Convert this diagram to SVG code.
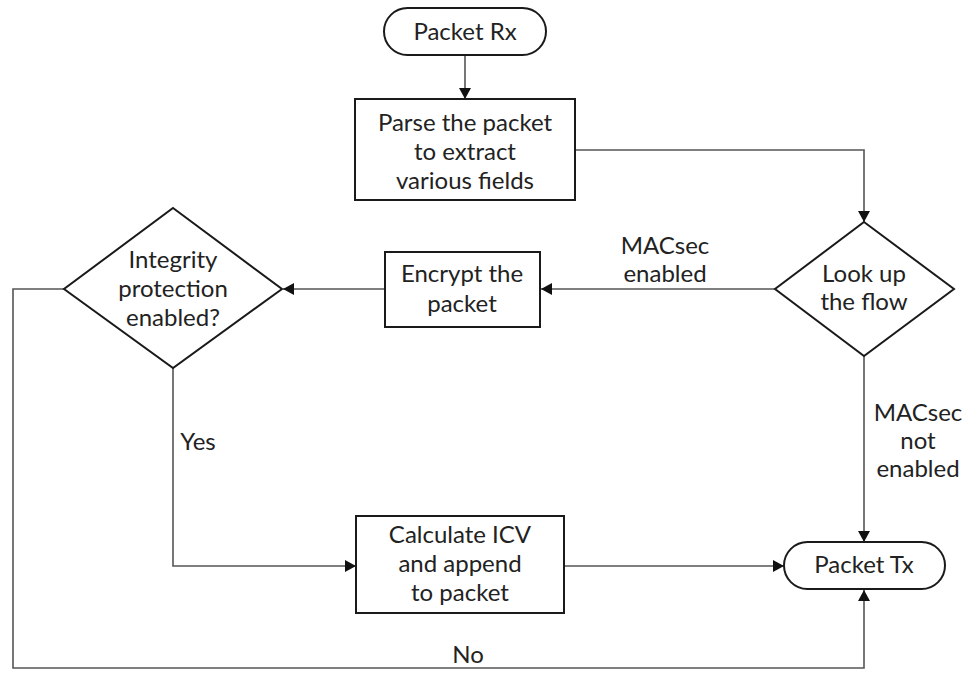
<svg xmlns="http://www.w3.org/2000/svg" width="965" height="677" viewBox="0 0 965 677">
<style>
.shape{fill:#fff;stroke:#1a1a1a;stroke-width:2}
.conn{fill:none;stroke:#555;stroke-width:1.6}
text{font-family:Lato,"Open Sans","Liberation Sans",sans-serif;font-size:24px;fill:#222;text-anchor:middle}
</style>
<defs>
<marker id="arr" markerUnits="userSpaceOnUse" markerWidth="12" markerHeight="12" refX="11" refY="6" orient="auto">
<path d="M0,0 L11,6 L0,12 z" fill="#111"/>
</marker>
</defs>
<rect width="965" height="677" fill="#fff"/>
<g id="connectors">
<path class="conn" d="M465,55 L465,99" marker-end="url(#arr)"/>
<path class="conn" d="M575,150 L864,150 L864,222" marker-end="url(#arr)"/>
<path class="conn" d="M775,289 L541,289" marker-end="url(#arr)"/>
<path class="conn" d="M385,289 L283,289" marker-end="url(#arr)"/>
<path class="conn" d="M173,368 L173,566 L356,566" marker-end="url(#arr)"/>
<path class="conn" d="M564,566 L784,566" marker-end="url(#arr)"/>
<path class="conn" d="M864,356 L864,542" marker-end="url(#arr)"/>
<path class="conn" d="M64,289 L13,289 L13,668 L864,668 L864,590" marker-end="url(#arr)"/>
<text x="665" y="254">MACsec</text>
<text x="665" y="282">enabled</text>
<text x="918" y="421">MACsec</text>
<text x="918" y="449">not</text>
<text x="918" y="477">enabled</text>
<text x="198" y="450">Yes</text>
<text x="468" y="663">No</text>
</g>
<g id="packet-rx">
<rect class="shape" x="384" y="8" width="162" height="47" rx="23.5"/>
<text x="465" y="40">Packet Rx</text>
</g>
<g id="parse">
<rect class="shape" x="355" y="99" width="220" height="101"/>
<text x="465" y="131">Parse the packet</text>
<text x="465" y="160">to extract</text>
<text x="465" y="189">various fields</text>
</g>
<g id="lookup">
<polygon class="shape" points="864,222 954,289 864,356 775,289"/>
<text x="864" y="282">Look up</text>
<text x="864" y="310">the flow</text>
</g>
<g id="encrypt">
<rect class="shape" x="385" y="252" width="155" height="75"/>
<text x="462" y="282">Encrypt the</text>
<text x="462" y="312">packet</text>
</g>
<g id="integrity">
<polygon class="shape" points="173,208 282,289 173,368 64,289"/>
<text x="173" y="268">Integrity</text>
<text x="173" y="297">protection</text>
<text x="173" y="326">enabled?</text>
</g>
<g id="calculate">
<rect class="shape" x="356" y="516" width="208" height="97"/>
<text x="460" y="543">Calculate ICV</text>
<text x="460" y="572">and append</text>
<text x="460" y="601">to packet</text>
</g>
<g id="packet-tx">
<rect class="shape" x="784" y="542" width="161" height="47" rx="23.5"/>
<text x="864" y="573">Packet Tx</text>
</g>
</svg>
